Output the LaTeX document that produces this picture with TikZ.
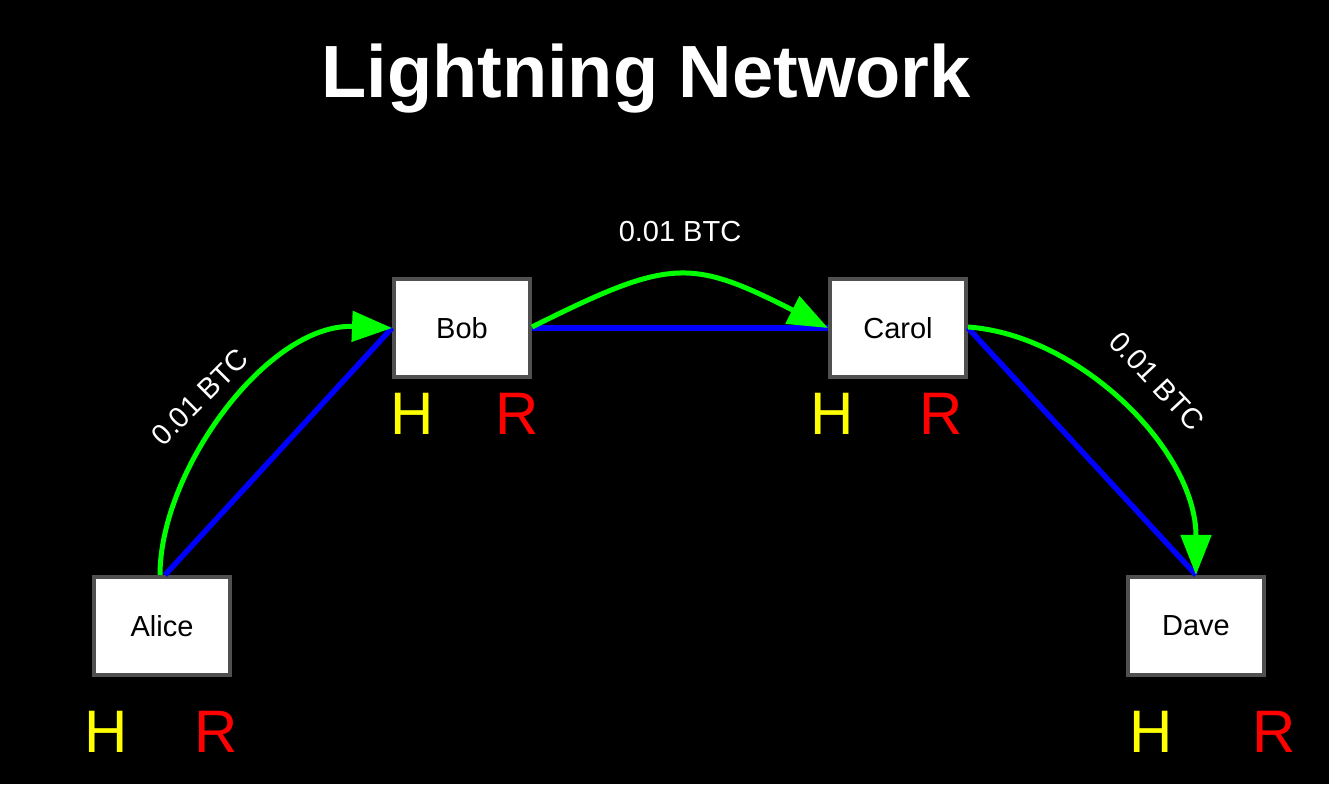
\documentclass[tikz,border=0pt]{standalone}
\usepackage{fontspec}
\setmainfont{Liberation Sans}
\usetikzlibrary{arrows.meta}
\definecolor{boxedge}{HTML}{505050}
\definecolor{chanblue}{HTML}{0000FF}
\definecolor{paygreen}{HTML}{00FF00}
\definecolor{hyellow}{HTML}{FFFF00}
\definecolor{rred}{HTML}{FF0000}
\tikzset{
  peer/.style={draw=boxedge, fill=white, line width=4pt, minimum width=136pt,
    minimum height=98pt, inner sep=0pt, text=black,
    font=\fontsize{29}{32}\selectfont},
  hashkey/.style={anchor=base, inner sep=0pt, text=hyellow, font=\fontsize{60}{64}\selectfont},
  preimage/.style={anchor=base, inner sep=0pt, text=rred, font=\fontsize{60}{64}\selectfont},
  channel/.style={draw=chanblue, line width=5.5pt},
  payment/.style={draw=paygreen, line width=5pt,
    -{Triangle[length=40pt,width=30pt]}, shorten >=0pt},
  amount/.style={inner sep=0pt, text=white, font=\fontsize{29}{32}\selectfont}
}
\begin{document}
\begin{tikzpicture}[x=1pt,y=1pt]
  % canvas
  \fill[black] (0,0) rectangle (1329,784);
  \useasboundingbox (0,0) rectangle (1329,784);

  % title
  \node[anchor=base, inner sep=0pt, text=white, font=\bfseries\fontsize{74}{80}\selectfont]
    (title) at (646,686) {Lightning Network};

  % peers
  \node[peer] (alice) at (162,158) {Alice};
  \node[peer] (bob)   at (462,456) {Bob};
  \node[peer] (carol) at (898,456) {Carol};
  \node[peer] (dave)  at (1196,158) {Dave};

  % hash and preimage markers under each peer
  \node[hashkey]  (aliceH) at (106,32)  {H};
  \node[preimage] (aliceR) at (216,32)  {R};
  \node[hashkey]  (bobH)   at (412,349) {H};
  \node[preimage] (bobR)   at (517,349) {R};
  \node[hashkey]  (carolH) at (832,349) {H};
  \node[preimage] (carolR) at (941,349) {R};
  \node[hashkey]  (daveH)  at (1151,32) {H};
  \node[preimage] (daveR)  at (1274,32) {R};

  % payment channels
  \draw[channel] ([xshift=3pt]alice.north) -- (bob.west);
  \draw[channel] (bob.east) -- (carol.west);
  \draw[channel] (carol.east) -- (dave.north);

  % routed payment
  \draw[payment] ([xshift=-2pt]alice.north) .. controls (160,314) and (268,461) .. (bob.west);
  \draw[payment] ([yshift=1pt]bob.east) .. controls (670,526) and (690,526) .. (carol.west);
  \draw[payment] ([yshift=1pt]carol.east) .. controls (1080,449) and (1196,334) .. (dave.north);

  % amounts
  \node[amount, rotate=45]  (amtAB) at (200,387) {0.01 BTC};
  \node[amount]             (amtBC) at (680,552) {0.01 BTC};
  \node[amount, rotate=-47] (amtCD) at (1157,403) {0.01 BTC};
\end{tikzpicture}
\end{document}
